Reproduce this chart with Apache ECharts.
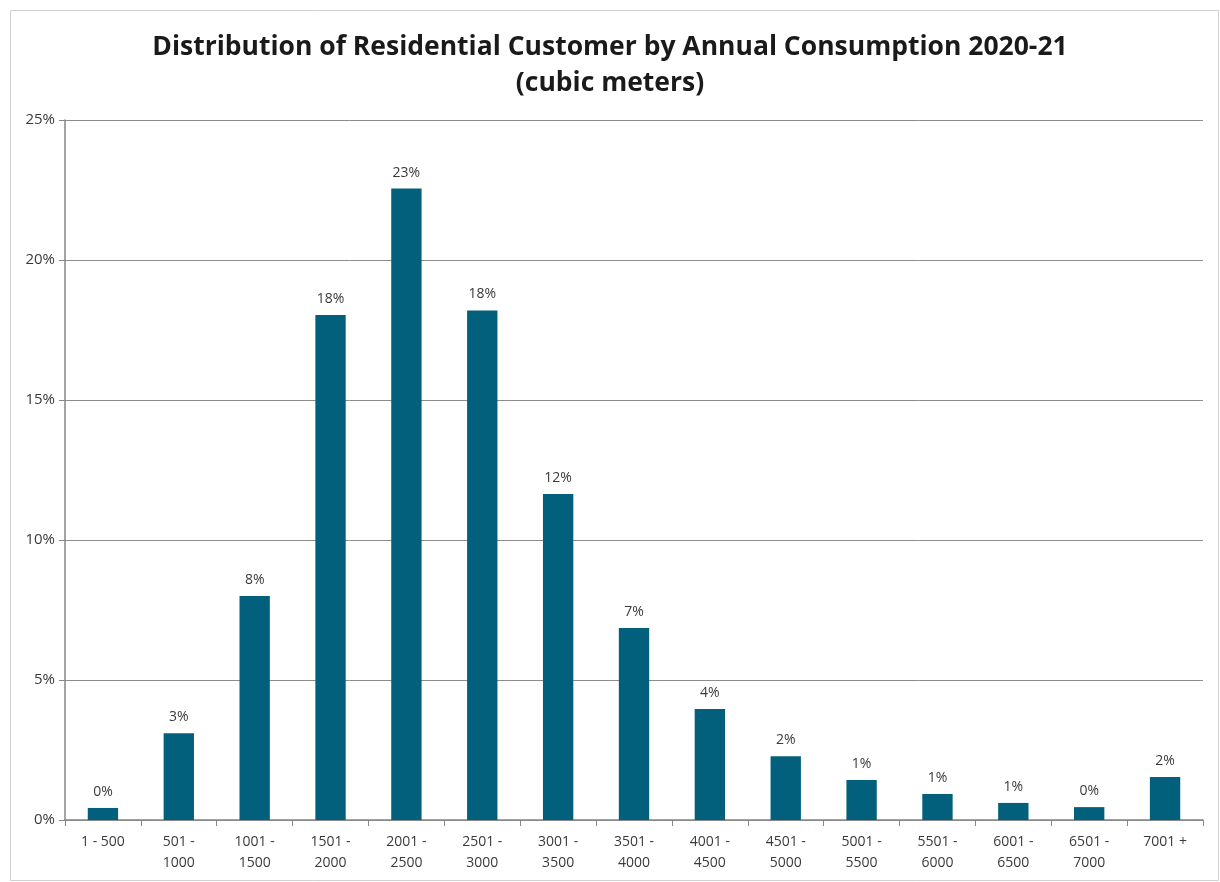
<!DOCTYPE html>
<html>
<head>
<meta charset="utf-8">
<script src="https://cdn.jsdelivr.net/npm/echarts@6/dist/echarts.min.js"></script>
<style>
  html, body { margin: 0; padding: 0; background: #fff; }
  #chart { width: 1220px; height: 882px; }
</style>
</head>
<body>
<div id="chart"></div>
<script>
const categories = ['1 - 500', '501 -\n1000', '1001 -\n1500', '1501 -\n2000', '2001 -\n2500',
  '2501 -\n3000', '3001 -\n3500', '3501 -\n4000', '4001 -\n4500', '4501 -\n5000',
  '5001 -\n5500', '5501 -\n6000', '6001 -\n6500', '6501 -\n7000', '7001 +'];
const shares = [0.43, 3.1, 8.0, 18.04, 22.55, 18.2, 11.64, 6.86, 3.96, 2.28, 1.43, 0.93, 0.61, 0.46, 1.54];
const yTicks = [0, 5, 10, 15, 20, 25];

const chart = echarts.init(document.getElementById('chart'));
chart.setOption({
  backgroundColor: '#fff',
  animation: false,
  graphic: [{
    type: 'rect', left: 8, top: 8, shape: { width: 1208, height: 870 },
    style: { fill: 'none', stroke: '#d0d0d0', lineWidth: 1 }, silent: true, z: -1
  }],
  title: {
    text: 'Distribution of Residential Customer by Annual Consumption 2020-21\n(cubic meters)',
    left: 'center', top: 24,
    textStyle: { fontFamily: 'Open Sans', fontWeight: 'bold', fontSize: 26.5, color: '#1a1a1a', lineHeight: 36 }
  },
  grid: { left: 65, right: 17, top: 120, bottom: 62 },
  xAxis: {
    type: 'category', data: categories,
    axisLine: { lineStyle: { color: '#868686', width: 1.5 } },
    axisTick: { show: true, alignWithLabel: false, length: 6, lineStyle: { color: '#868686' } },
    axisLabel: { color: '#3a3a3a', fontFamily: 'Open Sans', fontSize: 14, lineHeight: 21, margin: 12, interval: 0 }
  },
  yAxis: {
    type: 'value', min: yTicks[0], max: yTicks[yTicks.length - 1], interval: 5,
    axisLine: { show: true, lineStyle: { color: '#868686', width: 1.5 } },
    axisTick: { show: true, length: 6, lineStyle: { color: '#868686' } },
    axisLabel: { formatter: '{value}%', color: '#3a3a3a', fontFamily: 'Open Sans', fontSize: 15, margin: 10 },
    splitLine: { lineStyle: { color: '#8c8c8c', width: 1 } }
  },
  series: [{
    type: 'bar', data: shares, barWidth: '40%',
    itemStyle: { color: '#03607c' },
    label: {
      show: true, position: 'top', distance: 9,
      formatter: p => Math.round(p.value) + '%',
      color: '#3a3a3a', fontFamily: 'Open Sans', fontSize: 14
    }
  }]
});
</script>
</body>
</html>
